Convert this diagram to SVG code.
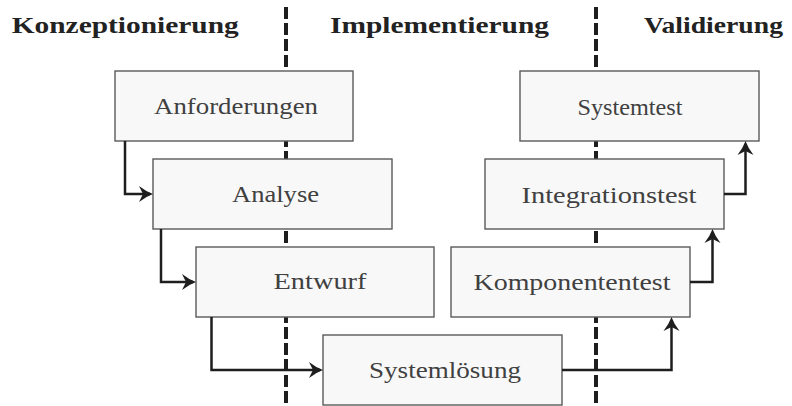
<svg xmlns="http://www.w3.org/2000/svg" width="792" height="406" viewBox="0 0 792 406">
<style>
.hdr{font-family:"Liberation Serif","DejaVu Serif",serif;font-weight:bold;font-size:24px;fill:#222}
.box{fill:#f8f8f8;stroke:#5a5a5a;stroke-width:1.4}
.lbl{font-family:"Liberation Serif","DejaVu Serif",serif;font-size:23.5px;fill:#404040;text-anchor:middle}
.sep{stroke:#1e1e1e;stroke-width:4;stroke-dasharray:12 4;fill:none}
.con{stroke:#1e1e1e;stroke-width:2.5;fill:none;marker-end:url(#ah)}
</style>
<defs>
<marker id="ah" markerUnits="userSpaceOnUse" viewBox="-15 -9 16 18" markerWidth="16" markerHeight="18" refX="-3" refY="0" orient="auto">
<path d="M0,0 Q-7,-2.5 -14,-8 L-10,0 L-14,8 Q-7,2.5 0,0 Z" fill="#1e1e1e"/>
</marker>
</defs>
<rect width="792" height="406" fill="#ffffff"/>
<g id="separators">
<line class="sep" x1="286" y1="7" x2="286" y2="406"/>
<line class="sep" x1="596" y1="7" x2="596" y2="406"/>
</g>
<g id="headers">
<text class="hdr" x="11.7" y="32.5" textLength="227" lengthAdjust="spacingAndGlyphs">Konzeptionierung</text>
<text class="hdr" x="330" y="32.5" textLength="219" lengthAdjust="spacingAndGlyphs">Implementierung</text>
<text class="hdr" x="644" y="32.5" textLength="139" lengthAdjust="spacingAndGlyphs">Validierung</text>
</g>
<g id="anforderungen">
<rect class="box" x="115" y="71" width="238" height="70"/>
<text class="lbl" x="236" y="114" textLength="164" lengthAdjust="spacingAndGlyphs">Anforderungen</text>
</g>
<g id="analyse">
<rect class="box" x="153" y="159" width="239" height="70"/>
<text class="lbl" x="275.5" y="201.5" textLength="87" lengthAdjust="spacingAndGlyphs">Analyse</text>
</g>
<g id="entwurf">
<rect class="box" x="196" y="247" width="238" height="70"/>
<text class="lbl" x="320" y="289" textLength="93" lengthAdjust="spacingAndGlyphs">Entwurf</text>
</g>
<g id="systemloesung">
<rect class="box" x="323" y="335" width="239" height="70"/>
<text class="lbl" x="445" y="378" textLength="152" lengthAdjust="spacingAndGlyphs">Systemlösung</text>
</g>
<g id="komponententest">
<rect class="box" x="451" y="247" width="239" height="70"/>
<text class="lbl" x="572" y="290" textLength="197" lengthAdjust="spacingAndGlyphs">Komponententest</text>
</g>
<g id="integrationstest">
<rect class="box" x="485" y="159" width="239" height="70"/>
<text class="lbl" x="609" y="202.5" textLength="175" lengthAdjust="spacingAndGlyphs">Integrationstest</text>
</g>
<g id="systemtest">
<rect class="box" x="520" y="71" width="239" height="70"/>
<text class="lbl" x="630" y="115" textLength="105" lengthAdjust="spacingAndGlyphs">Systemtest</text>
</g>
<g id="connectors">
<path class="con" d="M125,141 V194 H150"/>
<path class="con" d="M161,229 V282 H193"/>
<path class="con" d="M211.5,317 V370 H320"/>
<path class="con" d="M562,370 H671.5 V320"/>
<path class="con" d="M690,282 H712.5 V232"/>
<path class="con" d="M724,194 H745.5 V144"/>
</g>
</svg>
